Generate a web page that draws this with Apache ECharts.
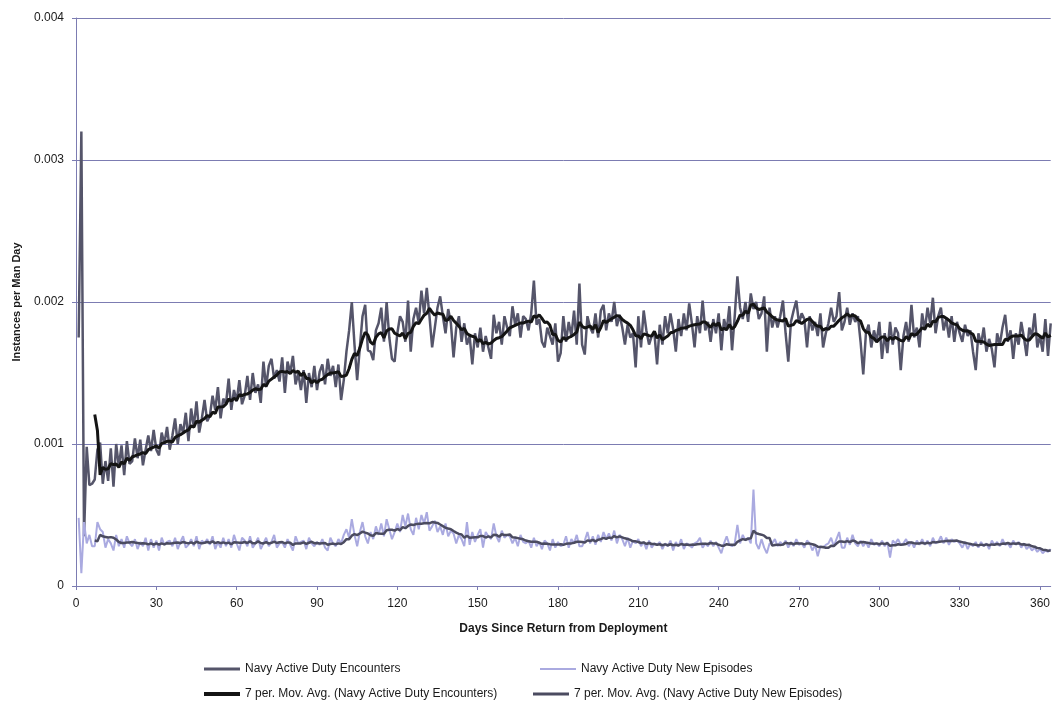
<!DOCTYPE html>
<html>
<head>
<meta charset="utf-8">
<script src="https://cdn.jsdelivr.net/npm/echarts@6/dist/echarts.min.js"></script>
<style>
  html, body { margin: 0; padding: 0; background: #fff; }
  #chart { width: 1053px; height: 709px; }
</style>
</head>
<body>
<div id="chart"></div>
<script>
// values, in instances per 100,000 man days (day 1 .. 364)
const UNIT = 1e-5
const encounters = [
  175,320,35,98,71,72,75, 96,101,72,88,74,97,70, 100,84,99,78,102,86,88,
  104,90,103,85,96,106,95, 110,96,92,108,100,112,96, 106,118,100,114,108,122,102,
  125,112,130,108,118,131,116, 120,134,124,140,118,132,128, 146,124,138,130,145,128,134,
  148,131,150,136,142,129,158, 140,155,160,146,152,144,161, 136,158,150,162,142,150,138,
  152,129,150,140,155,138,151, 156,142,160,148,155,140,156, 131,145,165,180,200,170,145,
  168,190,198,166,165,159,180, 185,196,172,200,175,160,158, 178,190,186,172,201,165,188,
  196,185,208,192,210,190,168, 182,196,204,190,178,195,185, 161,182,190,172,185,170,176,
  156,178,168,182,165,176,168, 160,191,178,186,170,190,182, 176,197,184,192,175,190,188,
  180,192,215,184,188,172,168, 182,176,170,185,158,164,190, 172,186,176,194,170,213,170,
  163,190,182,178,192,175,194, 198,180,192,186,200,183,191, 182,170,184,175,178,154,190,
  168,194,180,170,176,178,156, 184,170,190,178,192,181,165, 188,176,192,180,199,185,168,
  190,178,201,180,186,172,188, 178,192,166,188,180,197,166, 190,218,196,188,200,186,206,
  195,200,188,192,204,165,196, 182,190,182,190,201,178,158, 186,194,201,185,192,188,168,
  190,180,186,176,192,168,178, 185,196,186,190,207,180,186, 196,184,192,186,190,172,149,
  178,184,168,180,172,186,160, 178,164,186,170,182,178,152, 176,186,172,198,175,182,168,
  192,180,196,185,203,178,190, 196,180,188,175,190,172,186, 178,172,184,176,180,165,152,
  178,170,182,165,174,167,154, 178,170,182,191,172,180,160, 178,170,186,175,162,182,176,
  192,168,176,165,188,162,185
]
const newEpisodes = [
  48,9,45,30,36,28,28, 45,40,38,27,33,30,25, 36,28,33,27,35,30,28,
  33,26,31,28,34,25,33, 27,32,25,34,29,31,32, 28,34,26,31,35,27,29,
  33,28,35,26,32,30,33, 29,35,26,31,27,34,28, 33,27,36,30,25,34,32,
  28,35,27,30,34,26,30, 34,28,31,36,27,30,31, 27,33,29,25,35,30,31,
  32,26,34,30,28,31,29, 33,27,25,34,30,28,33, 30,36,40,34,47,36,28,
  38,45,35,30,38,33,42, 36,44,35,47,40,33,38, 44,38,50,42,51,40,36,
  48,40,50,44,52,39,42, 46,38,42,36,44,35,39, 37,30,36,33,28,45,29,
  38,31,36,40,27,38,35, 33,44,35,31,39,34,36, 35,30,34,28,36,31,30,
  32,27,34,28,31,26,32, 30,25,33,27,31,28,29, 35,27,33,30,36,28,28,
  32,38,30,35,29,36,31, 38,33,37,32,39,30,36, 33,28,34,27,32,30,33,
  28,31,26,32,27,30,29, 31,26,30,28,32,25,31, 28,33,26,30,29,27,30,
  31,34,27,30,28,32,28, 31,27,23,30,35,29,28, 30,43,30,36,32,34,30,
  68,30,26,33,27,23,30, 30,33,28,31,29,32,27, 31,28,33,29,30,27,32,
  30,25,29,21,28,27,29, 30,34,28,33,38,27,27, 34,29,36,30,28,32,28,
  31,27,33,29,30,28,32, 28,31,20,32,30,33,29, 30,33,28,31,27,32,29,
  33,29,32,28,34,30,31, 35,30,34,29,33,31,32, 30,27,31,26,30,28,31,
  27,31,28,30,26,32,29, 31,28,33,29,30,27,32, 29,31,27,30,26,28,25,
  27,24,26,23,25,24,26
]
const yTicks = [0, 0.001, 0.002, 0.003, 0.004]
const names = [
  'Navy Active Duty Encounters',
  'Navy Active Duty New Episodes',
  '7 per. Mov. Avg. (Navy Active Duty Encounters)',
  '7 per. Mov. Avg. (Navy Active Duty New Episodes)'
]

const toPoints = arr => arr.map((v, i) => [i + 1, v * UNIT])
// Excel style 7 period trailing moving average trendline
const movAvg = (arr, n) => {
  const out = []
  for (let i = n - 1; i < arr.length; i++) {
    let s = 0
    for (let k = i - n + 1; k <= i; k++) s += arr[k]
    out.push([i + 1, s / n * UNIT])
  }
  return out
}

const font = 'Liberation Sans, Arial, sans-serif'
const gridColor = '#7c7cb2'
const colors = ['#55556a', '#aaaae0', '#141414', '#4b4b60']

const chart = echarts.init(document.getElementById('chart'))

const legendAt = (name, left, top, h) => ({
  data: [name],
  left: left,
  top: top,
  icon: 'rect',
  itemWidth: 36,
  itemHeight: h,
  textStyle: { fontFamily: font, fontSize: 12, color: '#1a1a1a' },
  selectedMode: false
})

chart.setOption({
  animation: false,
  color: colors,
  grid: { left: 76, right: 0, top: 18, bottom: 123 },
  legend: [
    legendAt(names[0], 199, 658, 3),
    legendAt(names[1], 535, 658, 2),
    legendAt(names[2], 199, 683, 4),
    legendAt(names[3], 528, 683, 3)
  ],
  xAxis: {
    type: 'value',
    min: 0,
    max: 364,
    interval: 30,
    name: 'Days Since Return from Deployment',
    nameLocation: 'middle',
    nameGap: 37,
    nameTextStyle: { fontFamily: font, fontSize: 12, fontWeight: 'bold', color: '#1a1a1a' },
    axisLine: { lineStyle: { color: gridColor, width: 1 } },
    axisTick: { show: true, length: 4, lineStyle: { color: gridColor } },
    axisLabel: { fontFamily: font, fontSize: 12, color: '#1a1a1a', margin: 12, showMaxLabel: false },
    splitLine: { show: false }
  },
  yAxis: {
    type: 'value',
    min: yTicks[0],
    max: yTicks[yTicks.length - 1],
    interval: 0.001,
    name: 'Instances per Man Day',
    nameLocation: 'middle',
    nameGap: 54,
    nameRotate: 90,
    nameTextStyle: { fontFamily: font, fontSize: 11, fontWeight: 'bold', color: '#1a1a1a' },
    axisLine: { show: true, lineStyle: { color: gridColor, width: 1 } },
    axisTick: { show: true, length: 4, lineStyle: { color: gridColor } },
    axisLabel: {
      fontFamily: font, fontSize: 12, color: '#1a1a1a', margin: 12,
      formatter: v => (v === 0 ? '0' : v.toFixed(3))
    },
    splitLine: { show: true, lineStyle: { color: gridColor, width: 1 } }
  },
  series: [
    {
      name: names[0], type: 'line', data: toPoints(encounters),
      showSymbol: false, lineStyle: { width: 2.5, color: colors[0] }, z: 2
    },
    {
      name: names[1], type: 'line', data: toPoints(newEpisodes),
      showSymbol: false, lineStyle: { width: 2, color: colors[1] }, z: 2
    },
    {
      name: names[2], type: 'line', data: movAvg(encounters, 7),
      showSymbol: false, lineStyle: { width: 3, color: colors[2] }, z: 3
    },
    {
      name: names[3], type: 'line', data: movAvg(newEpisodes, 7),
      showSymbol: false, lineStyle: { width: 2.5, color: colors[3] }, z: 3
    }
  ]
})
</script>
</body>
</html>
